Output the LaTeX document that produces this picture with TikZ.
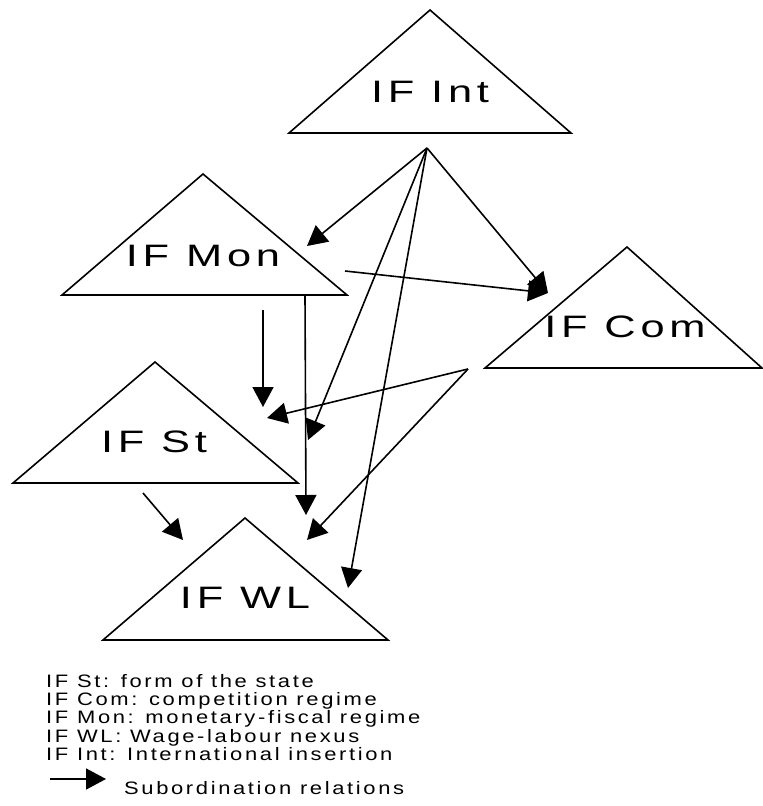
\documentclass[tikz,border=0pt]{standalone}
\usepackage{fontspec}
\setmainfont{Liberation Sans}
\newfontfamily\boxfont[LetterSpace=11]{Liberation Sans}
\newfontfamily\keyfont[LetterSpace=12]{Liberation Sans}
\usetikzlibrary{arrows.meta}
\newcommand\widen[2]{\scalebox{#1}[1]{#2}}
\begin{document}
\begin{tikzpicture}[x=1pt,y=-1pt,
  tri/.style={draw=black, line width=1.6pt, line join=miter},
  lbl/.style={anchor=base, inner sep=0pt, font=\boxfont\fontsize{31}{31}\selectfont},
  keytext/.style={anchor=base west, inner sep=0pt, font=\keyfont\fontsize{18}{18}\selectfont},
  rel/.style={line width=1.6pt, -{Triangle[length=20pt,width=21pt]}}]
\useasboundingbox (0,0) rectangle (763,806);

% institutional forms drawn as triangles
\coordinate (int-t) at (430,10);  \coordinate (int-l) at (289,133); \coordinate (int-r) at (571,133);
\coordinate (mon-t) at (203,174); \coordinate (mon-l) at (62,295);  \coordinate (mon-r) at (347,295);
\coordinate (com-t) at (627,247); \coordinate (com-l) at (485,368); \coordinate (com-r) at (762,368);
\coordinate (st-t)  at (155,362); \coordinate (st-l)  at (13,483);  \coordinate (st-r)  at (298,483);
\coordinate (wl-t)  at (245,518); \coordinate (wl-l)  at (103,640); \coordinate (wl-r)  at (388,640);
\foreach \f in {int,mon,com,st,wl}{\draw[tri] (\f-t) -- (\f-l) -- (\f-r) -- cycle;}

\node[lbl] (int) at (430,102) {\widen{1.4}{IF Int}};
\node[lbl] (mon) at (203,266) {\widen{1.4}{IF Mon}};
\node[lbl] (com) at (625,337) {\widen{1.4}{IF Com}};
\node[lbl] (st)  at (154,452) {\widen{1.4}{IF St}};
\node[lbl] (wl)  at (245,608) {\widen{1.4}{IF WL}};

% ends of the subordination arrows
\coordinate (int-src) at (427,148);
\coordinate (mon-in)  at (307,246);
\coordinate (com-in)  at (548,293);
\coordinate (st-in1)  at (308,440);
\coordinate (wl-in1)  at (348,588);
\coordinate (mon-out) at (345,271);
\coordinate (mon-d1)  at (263,310);
\coordinate (st-in2)  at (263,407);
\coordinate (mon-d2)  at (305,295);
\coordinate (wl-in2)  at (306,515);
\coordinate (com-out) at (468,369);
\coordinate (st-in3)  at (267,418);
\coordinate (wl-in3)  at (307,540);
\coordinate (st-out)  at (143,493);
\coordinate (wl-in4)  at (183,540);

\draw[rel] (int-src) -- (mon-in);
\draw[rel] (int-src) -- (com-in);
\draw[rel] (int-src) -- (st-in1);
\draw[rel] (int-src) -- (wl-in1);
\draw[rel] (mon-out) -- (com-in);
\draw[rel] (mon-d1) -- (st-in2);
\draw[rel] (mon-d2) -- (wl-in2);
\draw[rel] (com-out) -- (st-in3);
\draw[rel] (com-out) -- (wl-in3);
\draw[rel] (st-out) -- (wl-in4);

% key
\node[keytext] (k1) at (46,687) {\widen{1.22}{IF St: form of the state}};
\node[keytext] (k2) at (46,705) {\widen{1.22}{IF Com: competition regime}};
\node[keytext] (k3) at (46,723) {\widen{1.22}{IF Mon: monetary-fiscal regime}};
\node[keytext] (k4) at (46,742) {\widen{1.22}{IF WL: Wage-labour nexus}};
\node[keytext] (k5) at (46,760) {\widen{1.22}{IF Int: International insertion}};
\coordinate (key-a) at (50,779);
\coordinate (key-b) at (106,779);
\draw[rel] (key-a) -- (key-b);
\node[keytext] (k6) at (124,794) {\widen{1.22}{Subordination relations}};
\end{tikzpicture}
\end{document}
